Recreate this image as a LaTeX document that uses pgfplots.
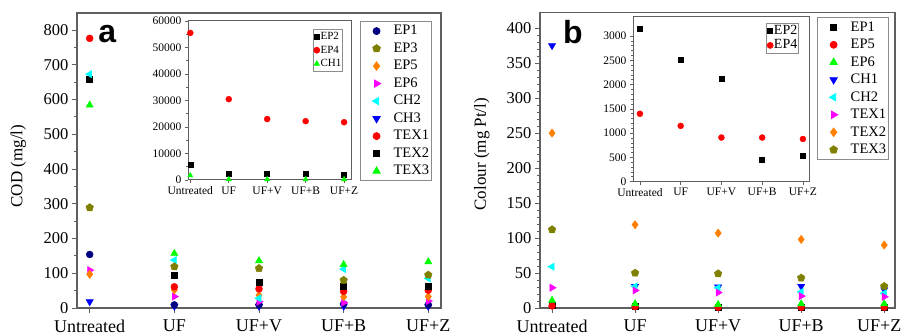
\documentclass[border=0pt]{standalone}
\usepackage{fontspec}
\setmainfont{Liberation Serif}
\setsansfont{Liberation Sans}
\usepackage{pgfplots}
\pgfplotsset{compat=1.18}
\usetikzlibrary{plotmarks}

\definecolor{cNavy}{RGB}{0,0,128}
\definecolor{cOlive}{RGB}{128,128,0}
\definecolor{cOrange}{RGB}{255,128,0}
\definecolor{cMag}{RGB}{255,0,255}
\definecolor{cCyan}{RGB}{0,255,255}
\definecolor{cBlue}{RGB}{0,0,255}
\definecolor{cRed}{RGB}{255,0,0}
\definecolor{cGreen}{RGB}{0,255,0}
\definecolor{cFrame}{RGB}{95,95,95}

\pgfplotsset{
 mNavyC/.style={only marks, mark=*, color=cNavy, mark size=3.5pt},
 mOlivP/.style={only marks, mark=pentagon*, color=cOlive, mark size=4pt},
 mOrD/.style={only marks, mark=diamond*, color=cOrange, mark size=4.2pt},
 mMagR/.style={only marks, mark=triangle*, color=cMag, mark size=4.2pt, mark options={rotate=-90}},
 mCyL/.style={only marks, mark=triangle*, color=cCyan, mark size=4.2pt, mark options={rotate=90}},
 mBlD/.style={only marks, mark=triangle*, color=cBlue, mark size=4.2pt, mark options={rotate=180}},
 mRedC/.style={only marks, mark=*, color=cRed, mark size=3.5pt},
 mBlkS/.style={only marks, mark=square*, color=black, mark size=3pt},
 mGrT/.style={only marks, mark=triangle*, color=cGreen, mark size=4.2pt},
 mainax/.style={
  scale only axis, anchor=south west,
  xmin=-0.15, xmax=4.15, xtick={0,...,4},
  xticklabels={Untreated,UF,UF+V,UF+B,UF+Z},
  tick align=outside, tick pos=left,
  axis line style={cFrame, line width=1.2pt},
  major tick length=5pt, minor tick length=3pt,
  every tick/.style={cFrame, line width=0.9pt},
  yticklabel style={font=\fontsize{16.5}{18}\selectfont},
  xticklabel style={font=\fontsize{18}{19}\selectfont, yshift=-3pt},
  label style={font=\fontsize{17}{19}\selectfont},
  /pgf/number format/assume math mode=true,
  legend cell align=left,
  legend style={draw=black!45, line width=0.8pt, font=\fontsize{14.5}{16}\selectfont,
    anchor=north east, inner sep=1pt, row sep=0pt,
    nodes={inner sep=1.5pt, text height=11pt, text depth=3.5pt}},
  legend image code/.code={\path[draw=none,fill=none] (0pt,-4pt) rectangle (31pt,4pt); \draw[##1] plot[only marks] coordinates {(15.5pt,0pt)};},
 },
 insetax/.style={
  scale only axis, anchor=south west,
  axis background/.style={fill=white},
  xtick={0,...,4},
  xticklabels={Untreated,UF,UF+V,UF+B,UF+Z},
  tick align=outside, tick pos=left,
  axis line style={cFrame, line width=1pt},
  major tick length=3pt, minor tick length=2pt,
  every tick/.style={cFrame, line width=0.7pt},
  tick label style={font=\fontsize{11.5}{13}\selectfont},
  /pgf/number format/assume math mode=true,
  scaled y ticks=false,
  yticklabel style={/pgf/number format/1000 sep={}},
  legend cell align=left,
  legend style={draw=black!45, line width=0.7pt,
    anchor=north east, inner sep=0.5pt, row sep=0pt},
  legend image code/.code={\path[draw=none,fill=none] (0pt,-2pt) rectangle (6pt,2pt); \draw[##1] plot[only marks] coordinates {(3pt,0pt)};},
 },
}

\begin{document}
\begin{tikzpicture}
\useasboundingbox (0pt,0pt) rectangle (904pt,336pt);

% ---------------- panel a ----------------
\begin{axis}[mainax, at={(77pt,28pt)}, width=364pt, height=295pt,
  ymin=0, ymax=849, ytick={0,100,...,800}, minor y tick num=1,
  ylabel={COD (mg/l)},
  ylabel style={at={(axis description cs:-0.161,0.481)}, anchor=center},
  legend style={at={(0.975,0.973)}}]
\addlegendimage{mNavyC}
\addlegendimage{mOlivP}
\addlegendimage{mOrD}
\addlegendimage{mMagR}
\addlegendimage{mCyL}
\addlegendimage{mBlD}
\addlegendimage{mRedC}
\addlegendimage{mBlkS}
\addlegendimage{mGrT}
\legend{EP1,EP3,EP5,EP6,CH2,CH3,TEX1,TEX2,TEX3}
% CH3
\addplot[mBlD, forget plot] coordinates {(0,18) (1,5) (2,5) (3,5) (4,5)};
% EP1
\addplot[mNavyC, forget plot] coordinates {(0,154) (1,9) (2,9) (3,12) (4,9)};
% EP6
\addplot[mMagR, forget plot] coordinates {(0,109) (1,33) (2,18) (3,15) (4,20)};
% EP5
\addplot[mOrD, forget plot] coordinates {(0,97) (1,52) (2,37) (3,32) (4,33)};
% TEX1
\addplot[mRedC, forget plot] coordinates {(0,776) (1,61) (2,55) (3,48) (4,51)};
% TEX2
\addplot[mBlkS, forget plot] coordinates {(0,659) (1,93) (2,73) (3,64) (4,63)};
% CH2
\addplot[mCyL, forget plot] coordinates {(0,673) (1,138) (2,28) (3,112) (4,85)};
% EP3
\addplot[mOlivP, forget plot] coordinates {(0,289) (1,119) (2,114) (3,80) (4,95)};
% TEX3
\addplot[mGrT, forget plot] coordinates {(0,584) (1,157) (2,136) (3,125) (4,133)};
\node[font=\fontsize{32}{32}\sffamily\bfseries] at (rel axis cs:0.083,0.927) {a};
\end{axis}

% inset a
\begin{axis}[insetax, at={(188pt,156pt)}, width=163pt, height=159pt,
  xmin=-0.06, xmax=4.18, ymin=0, ymax=60000,
  ytick={0,10000,...,60000}, minor y tick num=1,
  legend style={at={(0.951,0.95)}, font=\fontsize{11}{12}\selectfont,
    nodes={inner sep=0.8pt, text height=9pt, text depth=3pt}}]
\addplot[only marks, mark=square*, color=black, mark size=2.5pt] coordinates {(0,5700) (1,2200) (2,2200) (3,2200) (4,2150)};
\addplot[only marks, mark=*, color=cRed, mark size=3pt] coordinates {(0,55500) (1,30500) (2,23000) (3,22200) (4,21800)};
\addplot[only marks, mark=triangle*, color=cGreen, mark size=3pt] coordinates {(0,1700) (1,250) (2,250) (3,250) (4,250)};
\legend{EP2,EP4,CH1}
\end{axis}

% ---------------- panel b ----------------
\begin{axis}[mainax, at={(540pt,28pt)}, width=355pt, height=295.3pt,
  xmin=-0.145, xmax=4.13,
  xticklabels={Untreated,UF,UF+V,UF+B,\hspace*{-10pt}UF+Z},
  ymin=0, ymax=422, ytick={0,50,...,400}, minor y tick num=4,
  ylabel={Colour (mg Pt/l)},
  ylabel style={at={(axis description cs:-0.164,0.521)}, anchor=center},
  legend style={at={(0.983,0.985)}}]
\addlegendimage{mBlkS}
\addlegendimage{mRedC}
\addlegendimage{mGrT}
\addlegendimage{mBlD}
\addlegendimage{mCyL}
\addlegendimage{mMagR}
\addlegendimage{mOrD}
\addlegendimage{mOlivP}
\legend{EP1,EP5,EP6,CH1,CH2,TEX1,TEX2,TEX3}
% EP1
\addplot[mBlkS, forget plot] coordinates {(0,4) (1,2) (2,1) (3,1) (4,1)};
% EP5
\addplot[mRedC, forget plot] coordinates {(0,3) (1,2) (2,1) (3,1) (4,1)};
% EP6
\addplot[mGrT, forget plot] coordinates {(0,11) (1,6) (2,5) (3,6) (4,6)};
% CH1
\addplot[mBlD, forget plot] coordinates {(0,375) (1,31) (2,30) (3,31) (4,26)};
% CH2
\addplot[mCyL, forget plot] coordinates {(0,59) (1,31) (2,29) (3,23) (4,21)};
% TEX1
\addplot[mMagR, forget plot] coordinates {(0,29) (1,25) (2,22) (3,17) (4,16)};
% TEX2
\addplot[mOrD, forget plot] coordinates {(0,250) (1,119) (2,107) (3,98) (4,90)};
% TEX3
\addplot[mOlivP, forget plot] coordinates {(0,112) (1,50) (2,49) (3,43) (4,31)};
\node[font=\fontsize{32}{32}\sffamily\bfseries] at (rel axis cs:0.093,0.935) {b};
\end{axis}

% inset b
\begin{axis}[insetax, at={(633pt,154.3pt)}, width=176pt, height=165pt,
  xmin=-0.17, xmax=4.15, ymin=0, ymax=3400,
  ytick={0,500,...,3000}, minor y tick num=4,
  legend style={at={(0.943,0.964)}, font=\fontsize{14}{15}\selectfont,
    nodes={inner sep=0.8pt, text height=10pt, text depth=3pt}}]
\addplot[only marks, mark=square*, color=black, mark size=2.5pt] coordinates {(0,3150) (1,2510) (2,2120) (3,450) (4,540)};
\addplot[only marks, mark=*, color=cRed, mark size=3pt] coordinates {(0,1400) (1,1150) (2,910) (3,910) (4,880)};
\legend{EP2,EP4}
\end{axis}
\end{tikzpicture}
\end{document}
